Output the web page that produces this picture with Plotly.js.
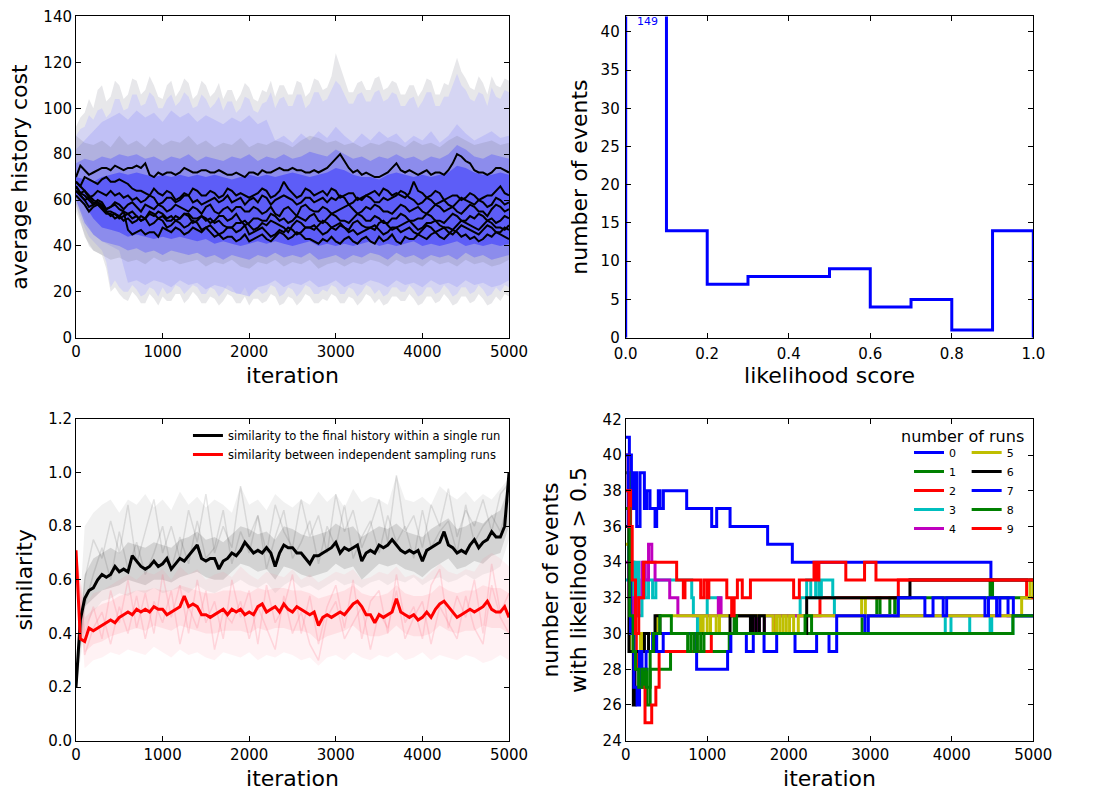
<!DOCTYPE html>
<html>
<head>
<meta charset="utf-8">
<script src="https://cdn.plot.ly/plotly-3.0.1.min.js"></script>
<style>
  html, body { margin: 0; padding: 0; background: #fff; }
  #chart { width: 1094px; height: 792px; }
</style>
</head>
<body>
<div id="chart"></div>
<script>
// ---------- sampling grids ----------
const ITER100 = [0,100,200,300,400,500,600,700,800,900,1000,1100,1200,1300,1400,1500,1600,1700,1800,1900,
  2000,2100,2200,2300,2400,2500,2600,2700,2800,2900,3000,3100,3200,3300,3400,3500,3600,3700,3800,3900,
  4000,4100,4200,4300,4400,4500,4600,4700,4800,4900,5000];
const ITER50 = [0,50,100,150,200,250,300,350,400,450,500,550,600,650,700,750,800,850,900,950,
  1000,1050,1100,1150,1200,1250,1300,1350,1400,1450,1500,1550,1600,1650,1700,1750,1800,1850,1900,1950,
  2000,2050,2100,2150,2200,2250,2300,2350,2400,2450,2500,2550,2600,2650,2700,2750,2800,2850,2900,2950,
  3000,3050,3100,3150,3200,3250,3300,3350,3400,3450,3500,3550,3600,3650,3700,3750,3800,3850,3900,3950,
  4000,4050,4100,4150,4200,4250,4300,4350,4400,4450,4500,4550,4600,4650,4700,4750,4800,4850,4900,4950,5000];

// ---------- panel 1: average history cost per run (every 50 iterations) ----------
const costRunA = [70,75,73,71,72,73,74,74,73,75, 74,73,74,74,75,74,76,71,70,72, 71,72,72,71,72,74,73,72,72,73,
  73,72,72,73,72,71,71,72,71,70, 72,72,71,73,72,72,73,74,73,73, 74,73,73,72,72,73,72,73,74,76,
  78,80,77,74,72,73,71,72,71,70, 70,71,72,74,76,73,72,73,72,71, 72,73,71,72,72,71,73,76,80,79,
  77,76,73,72,72,71,72,74,74,73, 72];
const costRunB = [68,66,70,69,68,67,69,70,68,68, 69,68,67,65,64,64,63,62,65,63, 62,64,63,60,61,63,62,65,64,62,
  62,64,63,61,62,65,64,62,63,62, 61,62,63,65,64,61,62,64,68,65, 63,61,62,65,64,62,63,64,62,65,
  64,61,62,63,63,60,61,62,63,64, 62,65,64,62,63,62,61,63,68,64, 63,61,62,64,63,60,61,62,62,60,
  61,63,62,60,61,62,62,64,66,63, 62];
const costRunC = [66,63,64,61,62,64,63,62,64,62, 63,61,62,60,61,59,60,62,61,58, 59,61,61,59,60,62,62,59,60,58,
  59,60,61,59,60,62,59,60,61,58, 60,61,59,62,61,58,60,61,62,61, 60,58,59,61,61,59,60,61,59,61,
  60,62,61,58,59,61,60,62,61,59, 59,61,60,61,62,64,63,61,60,58, 59,61,60,58,59,60,58,57,59,61,
  60,59,58,60,59,57,58,61,60,58, 59];
const costRunD = [64,62,60,57,58,60,59,56,57,59, 58,56,58,59,57,55,58,57,56,58, 57,55,56,58,57,56,55,57,56,54,
  57,58,55,54,56,57,55,57,57,55, 55,57,56,54,55,57,54,53,56,57, 55,53,57,58,56,55,55,57,56,54,
  55,56,57,58,56,54,55,57,56,58, 57,55,55,54,56,58,57,55,56,57, 55,54,56,58,57,55,56,57,55,54,
  56,58,57,55,55,53,56,58,57,55, 56];
const costRunE = [62,60,58,55,57,58,56,54,54,52, 53,55,54,52,53,51,52,55,54,52, 53,51,51,53,52,54,53,50,51,53,
  52,50,51,53,53,51,52,54,51,49, 50,52,52,51,51,54,53,51,52,50, 51,53,52,51,53,54,51,50,52,54,
  53,51,51,50,52,54,53,51,51,53, 52,50,50,52,52,54,53,51,51,52, 52,54,53,51,51,50,52,54,53,51,
  51,53,52,54,53,51,52,50,51,53, 52];
const costRunF = [66,63,62,60,58,59,57,55,55,54, 53,51,52,50,51,53,52,49,50,52, 51,48,49,51,50,48,49,51,50,47,
  48,46,44,45,43,44,44,42,43,45, 42,43,44,45,43,42,44,46,45,43, 44,46,45,43,43,42,41,43,42,44,
  42,41,43,44,42,41,43,44,42,41, 44,42,43,45,42,41,44,43,43,45, 44,43,45,46,44,43,45,47,46,44,
  45,43,44,42,43,45,44,46,45,44, 43];
const costRunG = [68,66,64,62,60,59,58,56,57,58, 56,55,47,45,46,47,45,46,46,44, 48,47,46,48,47,45,46,48,47,46,
  48,49,47,45,46,48,48,46,47,49, 45,46,47,48,46,44,45,47,46,48, 47,45,46,48,48,49,47,45,46,48,
  47,49,48,46,47,45,46,47,48,49, 47,45,46,48,48,46,47,48,46,45, 47,49,48,46,47,48,46,45,47,49,
  48,47,46,45,47,49,48,46,46,48, 47];
const costRunH = [64,62,60,61,59,58,57,55,53,54, 52,53,54,55,53,51,52,54,53,55, 54,52,53,51,52,54,54,52,52,53,
  51,52,50,51,49,48,48,50,50,51, 49,47,48,50,49,51,50,49,48,46, 49,51,50,48,48,47,49,51,50,48,
  49,50,48,47,50,51,49,48,48,47, 50,51,49,47,48,49,50,51,49,47, 48,50,50,51,49,48,48,47,49,51,
  50,49,48,47,49,51,50,48,48,47, 49];

// spread of sampled costs, outer envelopes every 50 iterations
const costOuterHi = [92,96,98,104,100,108,110,103,105,112, 110,104,106,113,112,106,108,114,110,105,
  104,110,112,105,108,113,111,104,106,112, 110,105,107,111,104,108,108,103,106,111,
  109,104,103,108,107,112,105,110,110,106, 106,112,111,105,107,113,112,108,109,114,
  124,118,112,107,107,111,112,108,108,113, 114,108,109,112,111,106,106,110,110,105,
  108,113,112,106,106,111,110,116,122,116, 113,109,108,114,111,106,114,110,109,113, 112];
const costOuterLo = [55,50,45,40,38,37,36,30,20,22, 19,17,16,20,18,15,15,19,17,14,
  18,16,16,19,19,15,17,20,18,15, 15,18,17,14,16,19,18,15,15,18,
  14,17,17,15,16,19,18,14,15,18, 17,14,16,19,18,15,15,17,16,19,
  18,15,15,18,17,14,16,19,18,15, 17,14,15,18,18,16,16,19,17,14,
  15,18,18,15,16,19,17,14,15,18, 18,15,16,19,17,14,15,18,16,19, 18];
const costWideHi = [88,91,92,97,95,99,100,96,98,104, 104,99,100,106,106,101,102,107,105,100,
  100,104,106,101,103,107,105,100,101,106, 104,100,102,105,99,103,103,98,100,105,
  104,99,98,102,103,107,100,104,105,101, 101,106,106,100,102,107,107,103,104,108,
  112,110,106,102,102,106,107,103,103,107, 108,103,104,107,106,101,101,104,105,100,
  103,107,107,101,101,105,105,110,115,110, 108,104,103,107,106,101,109,105,104,108, 107];
const costWideLo = [58,53,48,44,42,40,38,33,22,25, 22,20,20,23,21,18,19,22,21,18,
  22,19,20,23,22,19,21,23,22,19, 19,22,21,18,20,23,22,19,19,22,
  18,21,21,19,20,23,22,18,19,22, 21,18,20,23,22,19,19,21,20,23,
  22,19,19,22,21,18,20,23,22,19, 21,18,19,22,22,20,20,23,21,18,
  19,22,22,19,20,23,21,18,19,22, 22,19,20,23,21,18,19,22,20,23, 22];
// inner envelopes every 100 iterations
const costMidHi   = [82,86,90,94,96,98,95,99,96,98,94,99,96,98,94,97,95,93,96,94,97,93,95,86,88,85,89,86,90,87,92,88,85,89,86,90,87,89,85,88,86,90,85,88,93,89,86,88,90,87,88];
const costMidLo   = [60,52,45,42,40,38,24,25,23,25,24,22,25,23,24,21,23,22,20,19,18,22,23,25,22,24,23,25,22,23,25,22,24,23,25,24,22,25,23,24,22,25,23,24,22,25,23,24,22,23,25];
const costGreyHi  = [88,85,84,86,83,88,84,86,83,87,84,86,85,88,84,86,83,85,84,87,83,85,84,86,85,83,86,88,87,85,86,84,85,83,85,84,86,85,83,86,84,85,83,86,88,86,84,85,86,84,85];
const costGreyLo  = [58,44,38,36,34,35,33,34,32,35,33,34,32,33,34,31,33,32,34,31,30,33,32,34,31,33,32,34,30,32,33,31,33,32,34,33,31,34,32,33,31,34,32,33,31,34,32,33,31,32,34];
const costInnerHi = [76,78,77,79,78,80,79,80,78,79,77,79,78,80,77,79,78,77,79,78,80,77,79,78,80,78,79,81,80,79,82,80,78,79,77,79,78,80,78,79,77,79,78,80,84,82,79,78,80,79,78];
const costInnerLo = [60,50,45,42,41,40,38,39,37,38,36,38,37,36,37,35,36,34,36,35,34,36,35,37,35,36,35,37,34,35,36,34,36,35,37,36,34,37,35,36,34,36,35,36,34,37,35,36,34,35,36];
const costCoreHi  = [70,69,68,70,71,72,71,72,71,70,71,70,71,70,71,70,71,70,69,70,71,70,71,70,71,72,71,70,71,72,74,73,71,70,70,69,71,72,71,70,71,70,71,72,75,74,72,71,71,72,71];
const costCoreLo  = [62,58,52,48,47,46,44,45,44,43,44,43,44,43,42,43,41,42,41,40,41,42,41,42,41,40,41,42,40,41,40,41,40,41,42,40,41,40,41,42,40,41,40,41,42,40,41,40,41,40,41];

// ---------- panel 2: likelihood score histogram ----------
const binEdges = [0,0.1,0.2,0.3,0.4,0.5,0.6,0.7,0.8,0.9,1.0];
const binCounts = [149,14,7,8,8,9,4,5,1,14];

// ---------- panel 3: similarity ----------
const simWithinRun = [0.2,0.45,0.53,0.56,0.57,0.6,0.62,0.61,0.62,0.65,0.63,0.64,0.63,0.69,0.67,0.65,0.64,0.65,0.67,0.65,
  0.66,0.68,0.64,0.66,0.68,0.67,0.69,0.71,0.73,0.68,0.67,0.68,0.68,0.64,0.67,0.68,0.7,0.69,0.71,0.74,
  0.72,0.7,0.71,0.7,0.72,0.7,0.65,0.7,0.73,0.72,0.72,0.7,0.7,0.68,0.66,0.69,0.69,0.7,0.71,0.72,
  0.74,0.7,0.72,0.71,0.72,0.73,0.67,0.7,0.71,0.7,0.73,0.72,0.73,0.75,0.73,0.71,0.7,0.71,0.7,0.71,
  0.67,0.71,0.72,0.73,0.74,0.78,0.73,0.72,0.7,0.71,0.7,0.73,0.75,0.72,0.74,0.75,0.78,0.76,0.76,0.8,1.0];
const simBetweenRuns = [0.71,0.38,0.37,0.42,0.41,0.42,0.43,0.44,0.45,0.44,0.46,0.47,0.48,0.47,0.49,0.48,0.49,0.48,0.5,0.49,
  0.49,0.47,0.48,0.49,0.5,0.54,0.5,0.51,0.5,0.47,0.47,0.46,0.47,0.48,0.49,0.47,0.49,0.48,0.49,0.47,
  0.48,0.47,0.5,0.51,0.48,0.49,0.5,0.48,0.51,0.49,0.48,0.5,0.49,0.48,0.47,0.48,0.43,0.46,0.47,0.46,
  0.47,0.48,0.47,0.49,0.51,0.52,0.5,0.47,0.47,0.44,0.47,0.46,0.47,0.48,0.53,0.48,0.47,0.46,0.47,0.45,
  0.46,0.48,0.46,0.49,0.51,0.52,0.5,0.48,0.46,0.47,0.48,0.49,0.48,0.49,0.5,0.52,0.49,0.48,0.48,0.5,0.46];
// individual runs (every 100 iterations)
const simRunGrey1 = [0.2,0.6,0.75,0.68,0.82,0.7,0.88,0.66,0.78,0.9,0.7,0.8,0.68,0.86,0.74,0.92,0.7,0.8,0.72,0.95,0.76,0.84,0.7,0.88,0.78,0.72,0.9,0.76,0.84,0.7,0.92,0.78,0.86,0.72,0.8,0.9,0.74,0.99,0.78,0.84,0.72,0.88,0.8,0.94,0.76,0.86,0.8,0.9,0.78,0.92,0.96];
const simRunGrey2 = [0.2,0.5,0.62,0.72,0.6,0.78,0.64,0.74,0.62,0.7,0.8,0.64,0.76,0.66,0.82,0.68,0.72,0.86,0.66,0.78,0.7,0.84,0.64,0.76,0.86,0.68,0.74,0.82,0.66,0.8,0.72,0.88,0.68,0.76,0.82,0.7,0.84,0.74,0.8,0.68,0.86,0.72,0.78,0.82,0.7,0.88,0.74,0.8,0.84,0.78,0.9];
const simRunPink1 = [0.7,0.4,0.5,0.38,0.56,0.44,0.6,0.42,0.55,0.4,0.62,0.46,0.58,0.4,0.6,0.44,0.52,0.38,0.6,0.46,0.56,0.36,0.58,0.44,0.5,0.62,0.4,0.54,0.36,0.5,0.58,0.42,0.6,0.38,0.52,0.56,0.4,0.62,0.44,0.5,0.38,0.58,0.64,0.42,0.54,0.46,0.6,0.4,0.66,0.48,0.55];
const simRunPink2 = [0.7,0.32,0.42,0.48,0.36,0.5,0.4,0.54,0.38,0.52,0.44,0.56,0.36,0.5,0.42,0.56,0.34,0.48,0.44,0.52,0.38,0.5,0.42,0.34,0.54,0.4,0.48,0.36,0.3,0.46,0.52,0.38,0.44,0.5,0.34,0.48,0.42,0.56,0.38,0.46,0.52,0.36,0.5,0.44,0.38,0.54,0.42,0.36,0.58,0.46,0.4];
const simWithinHi = [0.25,0.8,0.85,0.88,0.9,0.85,0.9,0.88,0.92,0.87,0.9,0.86,0.93,0.88,0.91,0.87,0.9,0.88,0.85,0.95,0.88,0.9,0.86,0.92,0.89,0.87,0.9,0.88,0.93,0.89,0.92,0.87,0.94,0.89,0.91,0.9,0.88,0.99,0.9,0.89,0.91,0.88,0.95,0.92,0.9,0.93,0.89,0.92,0.9,0.94,0.98];
const simWithinLo = [0.18,0.42,0.48,0.52,0.53,0.55,0.54,0.56,0.55,0.57,0.55,0.56,0.57,0.55,0.58,0.56,0.55,0.57,0.58,0.6,0.58,0.57,0.59,0.55,0.58,0.6,0.57,0.58,0.56,0.58,0.6,0.58,0.59,0.57,0.59,0.6,0.58,0.6,0.59,0.61,0.58,0.6,0.61,0.59,0.6,0.62,0.6,0.62,0.63,0.65,0.75];
const simWithinCoreHi = [0.22,0.62,0.68,0.7,0.72,0.7,0.74,0.73,0.72,0.74,0.73,0.72,0.75,0.76,0.78,0.75,0.76,0.74,0.77,0.8,0.79,0.77,0.78,0.75,0.8,0.79,0.77,0.76,0.77,0.78,0.81,0.79,0.8,0.76,0.78,0.8,0.79,0.81,0.78,0.77,0.76,0.79,0.81,0.83,0.79,0.8,0.82,0.81,0.84,0.86,0.95];
const simWithinCoreLo = [0.2,0.5,0.53,0.56,0.57,0.58,0.6,0.59,0.58,0.6,0.6,0.59,0.61,0.62,0.63,0.61,0.6,0.6,0.63,0.66,0.65,0.63,0.64,0.6,0.65,0.64,0.62,0.61,0.62,0.63,0.66,0.64,0.65,0.6,0.63,0.66,0.65,0.66,0.64,0.63,0.61,0.64,0.66,0.68,0.64,0.65,0.67,0.66,0.69,0.7,0.8];
const simBetweenHi = [0.72,0.5,0.55,0.56,0.58,0.6,0.62,0.6,0.63,0.62,0.64,0.6,0.65,0.62,0.64,0.6,0.62,0.63,0.61,0.65,0.62,0.6,0.63,0.62,0.61,0.64,0.6,0.62,0.59,0.61,0.63,0.62,0.64,0.6,0.61,0.63,0.62,0.65,0.61,0.62,0.6,0.63,0.66,0.63,0.62,0.64,0.63,0.68,0.7,0.68,0.65];
const simBetweenLo = [0.65,0.27,0.3,0.31,0.33,0.32,0.34,0.33,0.32,0.35,0.33,0.31,0.34,0.32,0.33,0.31,0.3,0.33,0.32,0.31,0.33,0.3,0.32,0.31,0.33,0.32,0.3,0.31,0.28,0.31,0.32,0.3,0.33,0.31,0.3,0.32,0.31,0.33,0.3,0.31,0.33,0.3,0.32,0.31,0.3,0.32,0.31,0.29,0.3,0.32,0.3];
const simBetweenCoreHi = [0.72,0.46,0.49,0.51,0.52,0.54,0.55,0.56,0.56,0.57,0.56,0.56,0.58,0.57,0.56,0.55,0.55,0.56,0.56,0.56,0.55,0.57,0.56,0.57,0.57,0.56,0.56,0.55,0.53,0.54,0.55,0.56,0.58,0.55,0.54,0.54,0.55,0.58,0.55,0.54,0.54,0.55,0.58,0.56,0.55,0.56,0.56,0.58,0.57,0.57,0.55];
const simBetweenCoreLo = [0.68,0.33,0.36,0.37,0.39,0.4,0.41,0.42,0.41,0.43,0.42,0.41,0.43,0.42,0.41,0.4,0.4,0.41,0.41,0.41,0.4,0.42,0.41,0.42,0.42,0.41,0.41,0.4,0.37,0.39,0.4,0.41,0.43,0.4,0.39,0.39,0.4,0.43,0.4,0.39,0.39,0.4,0.43,0.41,0.4,0.41,0.41,0.43,0.42,0.42,0.4];

// ---------- panel 4: events with likelihood > 0.5, per number of runs ----------
const runLabels = ['0','1','2','3','4','5','6','7','8','9'];
const runColors = ['#0000ff','#008000','#ff0000','#00bfbf','#bf00bf','#bfbf00','#000000','#0000ff','#008000','#ff0000'];
const run0x = [0,45,70,100,135,176,229,258,298,360,380,400,421,462,503,748,1055,1116,1280,1741,2044,4480,4690,4750,5000];
const run0y = [41,40,37,39,36,39,37,38,37,36,37,38,37,38,38,37,36,37,36,35,34,32,31,31,31];
const run1x = [0,40,70,100,160,220,260,300,550,1270,2900,3080,3120,3240,3300,3340,3450,4470,4500,5000];
const run1y = [39,34,30,29,27,28,26,28,29,30,31,32,31,32,31,32,32,33,32,32];
const run2x = [0,30,60,100,130,180,237,319,370,410,1050,1811,2383,3344,4918,5000];
const run2y = [40,38,34,30,28,27,25,26,27,29,30,31,32,33,32,32];
const run3x = [0,40,70,100,130,160,200,240,280,330,370,810,830,880,920,1000,1160,2140,2220,2270,2330,2370,2400,2540,2560,3920,3990,4220,4470,4490,4750,5000];
const run3y = [33,35,34,32,34,31,33,32,33,32,33,32,31,30,31,32,31,32,33,32,33,32,33,32,31,30,31,30,31,30,31,31];
const run4x = [0,40,100,160,200,240,280,320,360,441,540,640,1136,1170,1580,1610,1640,1700,5000];
const run4y = [34,32,31,32,34,33,35,34,33,33,32,31,32,31,30,31,30,31,31];
const run5x = [0,50,100,180,200,380,920,950,1000,1040,1110,1150,1810,1850,1890,1930,1970,2010,2060,2117,2894,2940,4857,4960,5000];
const run5y = [35,29,30,29,30,31,30,31,30,31,30,31,30,31,30,31,30,31,30,31,32,31,32,33,32];
const run6x = [0,40,94,114,160,230,280,360,420,585,1280,1530,1560,1600,1640,1700,2220,3487,5000];
const run6y = [36,29,26,29,29,30,29,31,30,30,31,30,31,30,31,30,32,33,33];
const run7x = [0,30,60,100,140,170,200,250,330,380,460,870,1250,1290,1480,1565,1697,1852,2077,2342,2494,2588,2935,2976,3344,3670,3770,3895,3937,4407,4450,4550,4590,4755,5000];
const run7y = [40,36,30,27,26,29,28,29,30,29,30,28,29,30,29,30,29,30,29,30,29,31,30,31,32,31,32,31,32,31,32,31,32,31,31];
const run8x = [0,50,90,120,160,200,250,300,340,420,560,760,800,840,880,920,960,1000,1330,1360,2200,2280,4750,5000];
const run8y = [37,31,29,28,27,28,27,29,30,31,30,29,30,29,30,29,30,30,31,30,31,30,31,31];
const run9x = [0,40,80,120,160,220,625,707,727,748,920,960,1000,1020,1100,1240,1300,1330,1370,1430,1530,2060,2130,2310,2340,2370,2700,2930,3070,5000];
const run9y = [38,36,33,30,32,34,33,32,33,33,32,33,32,33,33,32,31,32,33,32,33,32,33,34,33,34,33,34,33,33];
const runX = [run0x,run1x,run2x,run3x,run4x,run5x,run6x,run7x,run8x,run9x];
const runY = [run0y,run1y,run2y,run3y,run4y,run5y,run6y,run7y,run8y,run9y];

// ---------- helpers ----------
function band(xs, hi, lo, color, xa, ya) {
  return {
    x: xs.concat(xs.slice().reverse()),
    y: hi.concat(lo.slice().reverse()),
    xaxis: xa, yaxis: ya, mode: 'lines', fill: 'toself', fillcolor: color,
    line: {width: 0}, hoverinfo: 'skip', showlegend: false
  };
}
function faint(xs, ys, color, xa, ya) {
  return {x: xs, y: ys, xaxis: xa, yaxis: ya, mode: 'lines',
    line: {color: color, width: 1.5}, hoverinfo: 'skip', showlegend: false};
}
function frame(extra) {
  return Object.assign({
    showline: true, linecolor: '#000', linewidth: 1, mirror: 'allticks',
    ticks: 'inside', ticklen: 5, tickwidth: 1, tickcolor: '#000',
    showgrid: false, zeroline: false, fixedrange: true,
    tickfont: {family: 'DejaVu Sans', size: 15, color: '#000'}
  }, extra);
}
function axTitle(text, standoff) {
  return {text: text, standoff: standoff, font: {family: 'DejaVu Sans', size: 22, color: '#000'}};
}

const traces = [];

// panel 1 shaded spreads
traces.push(band(ITER50, costOuterHi, costOuterLo, 'rgba(160,160,170,0.25)', 'x', 'y'));
traces.push(band(ITER50, costWideHi, costWideLo, 'rgba(190,190,255,0.45)', 'x', 'y'));
traces.push(band(ITER100, costMidHi, costMidLo, 'rgba(160,160,250,0.38)', 'x', 'y'));
traces.push(band(ITER100, costGreyHi, costGreyLo, 'rgba(90,90,100,0.15)', 'x', 'y'));
traces.push(band(ITER100, costInnerHi, costInnerLo, 'rgba(110,110,245,0.55)', 'x', 'y'));
traces.push(band(ITER100, costCoreHi, costCoreLo, 'rgba(80,80,250,0.78)', 'x', 'y'));
[costRunA, costRunB, costRunC, costRunD, costRunE, costRunF, costRunG, costRunH].forEach(function (r) {
  traces.push({x: ITER50, y: r, xaxis: 'x', yaxis: 'y', mode: 'lines',
    line: {color: '#000', width: 2}, hoverinfo: 'skip', showlegend: false});
});

// panel 2 step histogram
const histX = [binEdges[0]].concat(binEdges);
const histY = [0].concat(binCounts, [0]);
traces.push({x: histX, y: histY, xaxis: 'x2', yaxis: 'y2', mode: 'lines',
  line: {color: '#0000ff', width: 3, shape: 'hv'}, hoverinfo: 'skip', showlegend: false});

// panel 3 similarity
traces.push(band(ITER100, simWithinHi, simWithinLo, 'rgba(0,0,0,0.055)', 'x3', 'y3'));
traces.push(band(ITER100, simWithinCoreHi, simWithinCoreLo, 'rgba(0,0,0,0.12)', 'x3', 'y3'));
traces.push(faint(ITER100, simRunGrey1, 'rgba(0,0,0,0.10)', 'x3', 'y3'));
traces.push(faint(ITER100, simRunGrey2, 'rgba(0,0,0,0.10)', 'x3', 'y3'));
traces.push(band(ITER100, simBetweenHi, simBetweenLo, 'rgba(255,110,130,0.09)', 'x3', 'y3'));
traces.push(band(ITER100, simBetweenCoreHi, simBetweenCoreLo, 'rgba(255,110,130,0.14)', 'x3', 'y3'));
traces.push(faint(ITER100, simRunPink1, 'rgba(255,110,130,0.22)', 'x3', 'y3'));
traces.push(faint(ITER100, simRunPink2, 'rgba(255,110,130,0.22)', 'x3', 'y3'));
traces.push({x: ITER50, y: simWithinRun, xaxis: 'x3', yaxis: 'y3', mode: 'lines',
  name: 'similarity to the final history within a single run', legend: 'legend',
  line: {color: '#000', width: 3}, hoverinfo: 'skip'});
traces.push({x: ITER50, y: simBetweenRuns, xaxis: 'x3', yaxis: 'y3', mode: 'lines',
  name: 'similarity between independent sampling runs', legend: 'legend',
  line: {color: '#ff0000', width: 3}, hoverinfo: 'skip'});

// panel 4 step traces
for (let i = 0; i < runLabels.length; i++) {
  traces.push({x: runX[i], y: runY[i], xaxis: 'x4', yaxis: 'y4', mode: 'lines',
    name: runLabels[i], legend: i < 5 ? 'legend2' : 'legend3',
    line: {color: runColors[i], width: 3, shape: 'hv'}, hoverinfo: 'skip'});
}

const legendFont = {family: 'DejaVu Sans', size: 11.5, color: '#000'};
const runLegendFont = {family: 'DejaVu Sans', size: 11, color: '#000'};
const layout = {
  width: 1094, height: 792,
  margin: {l: 0, r: 0, t: 0, b: 0},
  paper_bgcolor: '#fff', plot_bgcolor: '#fff',
  font: {family: 'DejaVu Sans', color: '#000'},
  showlegend: true,
  xaxis:  frame({domain: [0.06947, 0.46527], anchor: 'y',  range: [0, 5000], dtick: 1000, title: axTitle('iteration', 7)}),
  yaxis:  frame({domain: [0.57361, 0.97917], anchor: 'x',  range: [0, 140], dtick: 20, title: axTitle('average history cost', 9)}),
  xaxis2: frame({domain: [0.57194, 0.94452], anchor: 'y2', range: [0, 1], dtick: 0.2, tickformat: '.1f', ticklabelstandoff: 2, title: axTitle('likelihood score', 5)}),
  yaxis2: frame({domain: [0.57361, 0.97917], anchor: 'x2', range: [0, 42], dtick: 5, ticklabelstandoff: 2, title: axTitle('number of events', 6)}),
  xaxis3: frame({domain: [0.06947, 0.46527], anchor: 'y3', range: [0, 5000], dtick: 1000, title: axTitle('iteration', 7)}),
  yaxis3: frame({domain: [0.06477, 0.47096], anchor: 'x3', range: [0, 1.2], dtick: 0.2, tickformat: '.1f', title: axTitle('similarity', 9)}),
  xaxis4: frame({domain: [0.57194, 0.94452], anchor: 'y4', range: [0, 5000], dtick: 1000, title: axTitle('iteration', 7)}),
  yaxis4: frame({domain: [0.06477, 0.47058], anchor: 'x4', range: [24, 42], dtick: 2, title: axTitle('number of events<br>with likelihood > 0.5', 9)}),
  legend:  {x: 0.1718, y: 0.4684, xanchor: 'left', yanchor: 'top', bgcolor: 'rgba(0,0,0,0)', font: legendFont, itemclick: false, itemdoubleclick: false},
  legend2: {x: 0.8309, y: 0.4470, xanchor: 'left', yanchor: 'top', bgcolor: 'rgba(0,0,0,0)', font: runLegendFont, itemclick: false, itemdoubleclick: false},
  legend3: {x: 0.8836, y: 0.4470, xanchor: 'left', yanchor: 'top', bgcolor: 'rgba(0,0,0,0)', font: runLegendFont, itemclick: false, itemdoubleclick: false},
  annotations: [
    {xref: 'x2', yref: 'y2', x: 0.053, y: 41.3, text: '149', showarrow: false,
      font: {family: 'DejaVu Sans', size: 11, color: '#0000ff'}},
    {xref: 'paper', yref: 'paper', x: 962.7 / 1094, y: 1 - 436 / 792, text: 'number of runs', showarrow: false,
      xanchor: 'center', yanchor: 'middle', font: {family: 'DejaVu Sans', size: 16, color: '#000'}}
  ]
};

Plotly.newPlot('chart', traces, layout, {staticPlot: true, displayModeBar: false});
</script>
</body>
</html>
